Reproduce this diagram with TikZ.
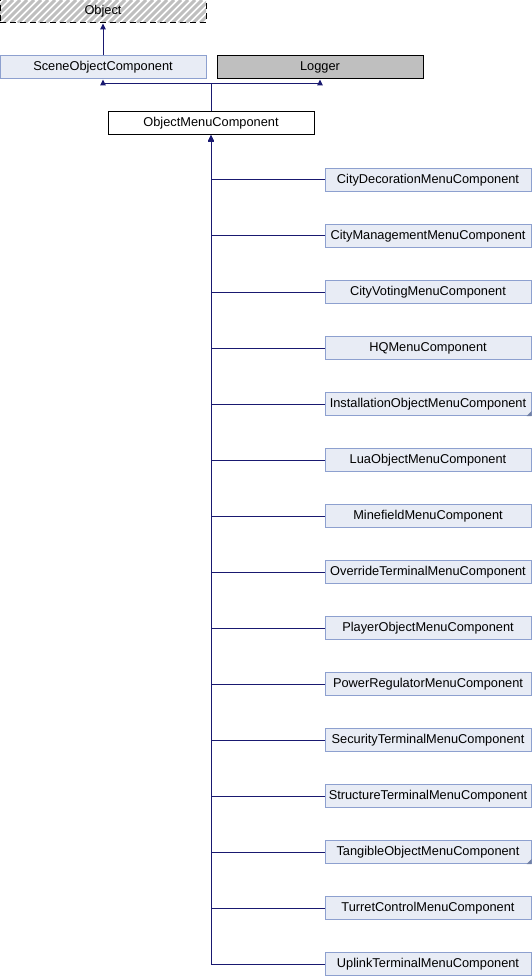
\documentclass[tikz,border=0pt]{standalone}
\usepackage{fontspec}
\setmainfont{Liberation Sans}
\usetikzlibrary{arrows.meta}
\definecolor{edgeblue}{HTML}{191970}
\definecolor{boxfill}{HTML}{E8ECF5}
\definecolor{boxline}{HTML}{8DA0CF}
\tikzset{
    class/.style={draw=boxline, fill=boxfill, line width=1pt, minimum width=206pt, minimum height=23pt, inner sep=0pt, font=\fontsize{12.8}{14}\selectfont},
    plain class/.style={class, draw=black, fill=white},
    extern class/.style={class, draw=black, fill=black!25},
    hidden class/.style={class, draw=black, dashed, dash pattern=on 6pt off 4pt, fill=none},
    hatch/.style={draw=black!25, line width=3pt},   % stripes behind the hidden class
    more/.style={fill=boxline!80!black},   % marker for truncated subclasses
    edge/.style={draw=edgeblue, line width=1pt, -{Triangle[length=6pt,width=5.5pt]}}
    }
\begin{document}
\begin{tikzpicture}[x=1pt,y=-1pt]
	\useasboundingbox (0,0) rectangle (532,976);
	\begin{scope}
		\clip (0,0) rectangle (206,23);
		\foreach \k in {-24,-17,...,206}
			\draw[hatch] (\k,23) -- ++(23,-23);
	\end{scope}
	\node[hidden class] (Object) at (103,11.5) {Object};
	\node[class] (SceneObj) at (103,67.5) {SceneObjectComponent};
	\node[extern class] (Logger) at (320,67.5) {Logger};
	\node[plain class] (ObjMenu) at (211,123.5) {ObjectMenuComponent};

	\draw[edge] (SceneObj) -- (Object);
	\draw[edge] (ObjMenu.north) -- ++(0,-27.5) -| (SceneObj.south);
	\draw[edge] (ObjMenu.north) -- ++(0,-27.5) -| (Logger.south);

	\foreach \name [count=\i from 0] in {CityDecoration,CityManagement,CityVoting,HQ,InstallationObject,LuaObject,Minefield,OverrideTerminal,PlayerObject,PowerRegulator,SecurityTerminal,StructureTerminal,TangibleObject,TurretControl,UplinkTerminal}{
		\node[class] (\name) at (428,180+56*\i) {\name MenuComponent};
		\draw[edge] (\name.west) -| (ObjMenu.south);
	}
	\fill[more] (InstallationObject.south east) -- ++(-5,0) -- ++(5,-5) -- cycle;
	\fill[more] (TangibleObject.south east) -- ++(-5,0) -- ++(5,-5) -- cycle;
\end{tikzpicture}
\end{document}
